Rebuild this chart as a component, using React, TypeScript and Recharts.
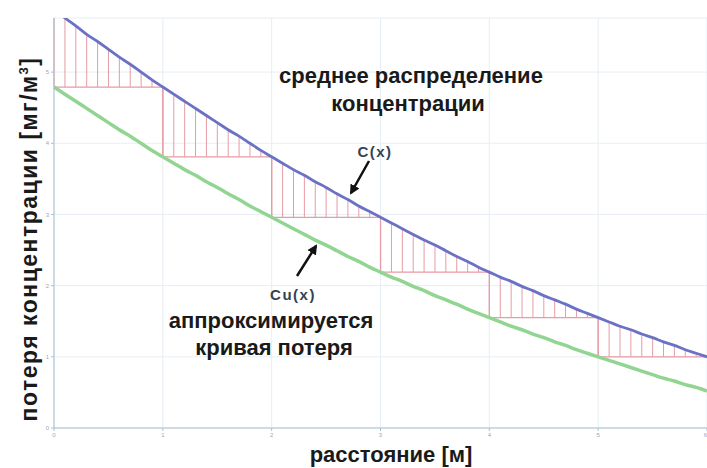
import React from "react";
import {
  ComposedChart, Line, Bar, XAxis, YAxis, CartesianGrid,
} from "recharts";

// C(x) read every 0.1 along distance 0..6
const cValues = [
  5.88, 5.76, 5.65, 5.53, 5.43, 5.32, 5.21, 5.11, 5.00, 4.89,
  4.79, 4.69, 4.59, 4.49, 4.39, 4.29, 4.19, 4.10, 4.00, 3.90,
  3.81, 3.72, 3.63, 3.55, 3.46, 3.38, 3.29, 3.21, 3.12, 3.04,
  2.96, 2.88, 2.80, 2.72, 2.64, 2.57, 2.49, 2.41, 2.34, 2.26,
  2.19, 2.12, 2.06, 1.99, 1.93, 1.86, 1.80, 1.74, 1.67, 1.61,
  1.55, 1.49, 1.43, 1.38, 1.32, 1.27, 1.21, 1.16, 1.10, 1.05,
  1.00,
];

// Cu(x), the approximating loss curve
const cuValues = [
  4.79, 4.69, 4.59, 4.49, 4.39, 4.29, 4.19, 4.10, 4.00, 3.90,
  3.81, 3.72, 3.63, 3.55, 3.46, 3.38, 3.29, 3.21, 3.12, 3.04,
  2.96, 2.88, 2.80, 2.72, 2.64, 2.57, 2.49, 2.41, 2.34, 2.26,
  2.19, 2.12, 2.06, 1.99, 1.93, 1.86, 1.80, 1.74, 1.67, 1.61,
  1.55, 1.49, 1.43, 1.38, 1.32, 1.27, 1.21, 1.16, 1.10, 1.05,
  1.00, 0.95, 0.90, 0.85, 0.80, 0.75, 0.70, 0.66, 0.61, 0.57,
  0.52,
];

// mean level on each interval [i, i+1]
const stepLevels = [4.79, 3.81, 2.96, 2.19, 1.55, 1.00];

const xTicks = [0, 1, 2, 3, 4, 5, 6];
const yTicks = [0, 1, 2, 3, 4, 5];

const data = cValues.map((c, j) => {
  const seg = Math.min(Math.floor(j / 10), 5);
  return {
    x: j / 10,
    c,
    cu: cuValues[j],
    hatch: j < 60 ? [stepLevels[seg], c] : null,
    step: j % 10 === 0 ? stepLevels[seg] : null,
  };
});

const BLUE = "#6b72c6";
const GREEN = "#92d592";
const RED = "#e79ba4";
const AXIS = "#a9bfce";
const FONT = "'Liberation Sans', Arial, sans-serif";

const bigText: React.SVGProps<SVGTextElement> = {
  fontFamily: FONT,
  fontSize: 22,
  fontWeight: 700,
  fill: "#1a1a1a",
  textAnchor: "middle",
};

const smallText: React.SVGProps<SVGTextElement> = {
  fontFamily: FONT,
  fontSize: 15,
  fontWeight: 700,
  letterSpacing: 1.5,
  fill: "#34444f",
  textAnchor: "middle",
};

export default function App() {
  return (
    <div style={{ position: "absolute", left: 0, top: 0, width: 707, height: 468, background: "#fff" }}>
      <ComposedChart
        width={707}
        height={468}
        data={data}
        margin={{ top: 18, right: 0, bottom: 0, left: 0 }}
      >
        <CartesianGrid stroke="#e7eef3" strokeWidth={1} />
        <XAxis
          dataKey="x"
          type="number"
          domain={[0, 6]}
          ticks={xTicks}
          height={40}
          stroke={AXIS}
          tickSize={3}
          tick={{ fontSize: 6, fill: "#9aa8b4", fontFamily: FONT }}
        />
        <YAxis
          type="number"
          domain={[0, 5.76]}
          allowDataOverflow
          ticks={yTicks}
          width={54}
          stroke={AXIS}
          tickSize={3}
          tick={{ fontSize: 6, fill: "#9aa8b4", fontFamily: FONT }}
        />
        <Bar dataKey="hatch" barSize={1} fill={RED} isAnimationActive={false} />
        <Line
          dataKey="step"
          type="stepAfter"
          connectNulls
          stroke={RED}
          strokeWidth={1.3}
          dot={false}
          isAnimationActive={false}
        />
        <Line
          dataKey="cu"
          type="monotone"
          stroke={GREEN}
          strokeWidth={3.5}
          dot={false}
          isAnimationActive={false}
        />
        <Line
          dataKey="c"
          type="monotone"
          stroke={BLUE}
          strokeWidth={2.8}
          dot={false}
          isAnimationActive={false}
        />
      </ComposedChart>

      <svg
        width={707}
        height={468}
        style={{ position: "absolute", left: 0, top: 0, pointerEvents: "none" }}
      >
        <defs>
          <marker id="arrowHead" viewBox="0 0 10 10" refX="8" refY="5" markerWidth="4" markerHeight="4" orient="auto">
            <path d="M0,0 L10,5 L0,10 z" fill="#111" />
          </marker>
        </defs>
        <text x={411} y={83} {...bigText}>среднее распределение</text>
        <text x={408} y={111} {...bigText}>концентрации</text>
        <text x={271} y={328} {...bigText}>аппроксимируется</text>
        <text x={274} y={355} {...bigText}>кривая потеря</text>
        <text x={391} y={462} {...bigText}>расстояние [м]</text>
        <text
          {...bigText}
          fontSize={23}
          letterSpacing={1.5}
          x={0}
          y={0}
          transform="translate(37,239) rotate(-90)"
        >
          потеря концентрации [мг/м<tspan dy={-9} fontSize={13}>3</tspan><tspan dy={9}>]</tspan>
        </text>

        <text x={375} y={157} {...smallText}>C(x)</text>
        <line x1={369} y1={161} x2={351} y2={193} stroke="#111" strokeWidth={2.5} markerEnd="url(#arrowHead)" />

        <text x={293} y={300} {...smallText}>Cu(x)</text>
        <line x1={297} y1={276} x2={316} y2={246} stroke="#111" strokeWidth={2.5} markerEnd="url(#arrowHead)" />
      </svg>
    </div>
  );
}
